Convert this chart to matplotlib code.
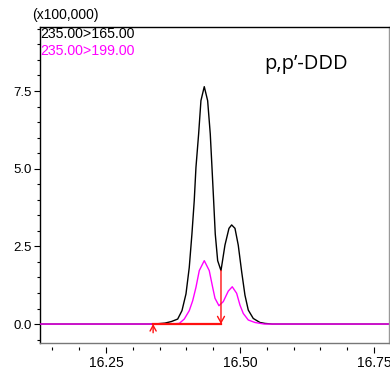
import matplotlib
matplotlib.use("Agg")
import matplotlib.pyplot as plt
from matplotlib.ticker import MultipleLocator, FormatStrFormatter

# retention time (min) and intensity (x100,000)
t_165 = [16.127, 16.340, 16.360, 16.372, 16.3838, 16.3918, 16.3993, 16.4054,
         16.4104, 16.4147, 16.4179, 16.4229, 16.4272, 16.4334, 16.4397, 16.4446,
         16.4478, 16.4509, 16.4539, 16.4584, 16.4646, 16.4720, 16.4795, 16.4845,
         16.4907, 16.4968, 16.5032, 16.5093, 16.5155, 16.5248, 16.5373, 16.5466,
         16.560, 16.778]
i_165 = [0.0, 0.0, 0.03, 0.08, 0.16, 0.43, 0.97, 1.82,
         2.90, 3.97, 5.04, 6.12, 7.19, 7.64, 7.19, 6.12,
         5.04, 3.97, 2.90, 2.04, 1.72, 2.54, 3.08, 3.19,
         3.08, 2.54, 1.68, 0.93, 0.45, 0.18, 0.05, 0.02,
         0.0, 0.0]

t_199 = [16.127, 16.370, 16.3868, 16.3961, 16.4054, 16.4118, 16.4179, 16.4241,
         16.4334, 16.4427, 16.4491, 16.4534, 16.4608, 16.4688, 16.4782, 16.4856,
         16.4938, 16.500, 16.5062, 16.5155, 16.528, 16.545, 16.778]
i_199 = [0.0, 0.0, 0.02, 0.16, 0.43, 0.75, 1.18, 1.72,
         2.04, 1.72, 1.18, 0.83, 0.59, 0.72, 1.06, 1.20,
         0.99, 0.61, 0.34, 0.13, 0.05, 0.0, 0.0]

# integration baseline
base_start = 16.338
base_end = 16.4646
base_end_height = 1.72

channel_labels = ["235.00>165.00", "235.00>199.00"]
compound = "p,p\u2019-DDD"

plt.rcParams['font.family'] = ['Liberation Sans', 'DejaVu Sans']

fig = plt.figure(figsize=(3.9, 3.74), dpi=100)
ax = fig.add_axes([0.1026, 0.0829, 0.8948, 0.8449])

ax.plot(t_165, i_165, color='black', lw=1.0, zorder=2)
ax.plot(t_199, i_199, color='#FF00FF', lw=1.0, zorder=3)

# peak integration marks
red = '#FF1010'
ax.plot([base_start, base_end], [0, 0], color=red, lw=1.6, zorder=4)
ax.annotate('', xy=(base_end, 0), xytext=(base_end, base_end_height),
            arrowprops=dict(arrowstyle='->,head_length=0.45,head_width=0.25',
                            color=red, lw=1.0, shrinkA=0, shrinkB=0), zorder=5)
ax.annotate('', xy=(base_start, 0), xytext=(base_start, -0.28),
            arrowprops=dict(arrowstyle='->,head_length=0.4,head_width=0.22',
                            color=red, lw=1.0, shrinkA=0, shrinkB=0), zorder=5)

ax.set_xlim(16.127, 16.778)
ax.set_ylim(-0.61, 9.56)

ax.set_yticks([0, 2.5, 5.0, 7.5])
ax.yaxis.set_major_formatter(FormatStrFormatter('%.1f'))
ax.yaxis.set_minor_locator(MultipleLocator(0.5))
ax.set_xticks([16.25, 16.50, 16.75])
ax.xaxis.set_major_formatter(FormatStrFormatter('%.2f'))
ax.xaxis.set_minor_locator(MultipleLocator(0.05))

ax.tick_params(axis='y', which='major', direction='out', length=4, width=0.8,
               labelsize=9.5, pad=2)
ax.tick_params(axis='y', which='minor', direction='out', length=2.5, width=0.8)
ax.tick_params(axis='x', which='major', direction='out', length=4.5, width=0.8,
               labelsize=10, pad=2)
ax.tick_params(axis='x', which='minor', direction='out', length=2.5, width=0.8)

# x ticks hang slightly below the frame
ax.spines['bottom'].set_position(('outward', 3))
ax.spines['bottom'].set_color('none')
ax.plot([0, 1], [0, 0], transform=ax.transAxes, color='#777777', lw=1.0,
        clip_on=False, zorder=6)
ax.spines['right'].set_color('#999999')
ax.spines['top'].set_color('black')
ax.spines['left'].set_color('black')
for s in ['top', 'left', 'right']:
    ax.spines[s].set_linewidth(1.0)

fig.text(32 / 390, 1 - 15 / 374, "(x100,000)", fontsize=10, va='center', ha='left')
fig.text(40 / 390, 1 - 34 / 374, channel_labels[0], fontsize=10.2, va='center',
         ha='left', color='black')
fig.text(40 / 390, 1 - 51 / 374, channel_labels[1], fontsize=10.2, va='center',
         ha='left', color='#FF00FF')
fig.text(264 / 390, 1 - 64 / 374, compound, fontsize=14.5, va='center', ha='left',
         family=['Open Sans', 'DejaVu Sans'])

fig.savefig("out.png", dpi=100)
